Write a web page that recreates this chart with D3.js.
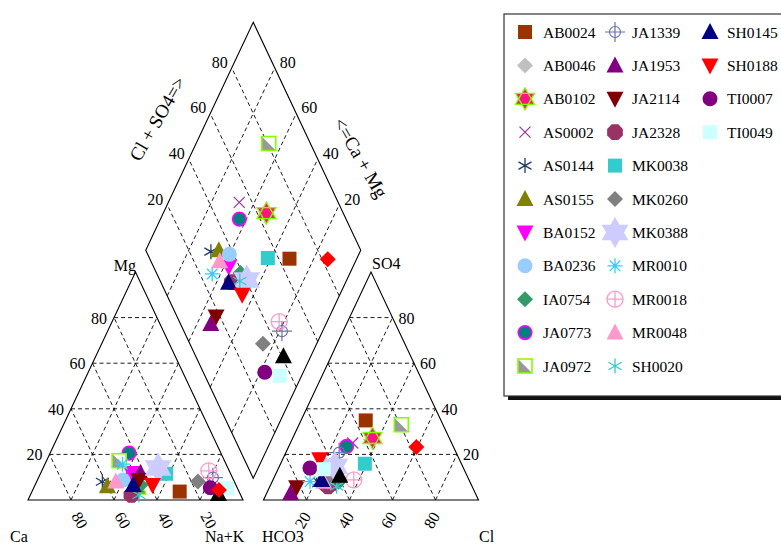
<!DOCTYPE html>
<html>
<head>
<meta charset="utf-8">
<script src="https://cdn.jsdelivr.net/npm/d3@7"></script>
<style>
  html, body { margin: 0; padding: 0; background: #fff; }
  svg { display: block; font-family: "Liberation Serif", "Times New Roman", serif; }
</style>
</head>
<body>
<svg id="chart" width="781" height="545"></svg>
<script>
// ---- Sample chemistry (percent of meq) ----
const samples = ["AB0024","AB0046","AB0102","AS0002","AS0144","AS0155","BA0152","BA0236","IA0754","JA0773","JA0972",
                 "JA1339","JA1953","JA2114","JA2328","MK0038","MK0260","MK0388","MR0010","MR0018","MR0048","SH0020",
                 "SH0145","SH0188","TI0007","TI0049","UNL001","UNL002"];
// cations
const caPct  = [27.6,32.5,47.0,61.0,61.4,60.0,46.0,51.4,44.4,42.7,49.0, 9.1,41.8,44.0,50.8,30.0,16.9,32.5,48.2, 9.5,55.1,47.3,47.8,38.8,12.5, 4.9,10.1, 9.0];
const mgPct  = [ 3.7,14.0, 5.0, 6.0, 8.0, 6.0,11.8, 8.8, 6.6,20.6,17.2, 9.8,11.8, 8.8, 2.2,11.5, 8.1,14.0,15.7,12.8, 8.1, 2.2, 6.6, 6.6, 5.4, 5.2, 2.6, 4.4];
const naKPct = [68.7,53.5,48.0,33.0,30.6,34.0,42.2,39.8,49.0,36.7,33.8,81.1,46.4,47.2,47.0,58.5,75.0,53.5,36.1,77.7,36.8,50.5,45.6,54.6,82.1,89.9,87.3,86.6];
// anions
const hco3Pct = [35.0,59.5,35.7,46.0,70.0,66.0,65.0,62.0,61.0,49.6,19.4,54.4,85.9,81.8,67.0,44.9,66.0,59.5,74.3,53.6,68.0,63.0,68.6,64.9,71.4,65.2,59.2,17.3];
const so4Pct  = [34.9,14.7,27.2,25.0, 8.0, 7.0,10.0, 8.0, 8.0,23.5,33.0,20.8, 3.0, 5.6, 6.0,15.9, 8.0,14.7, 8.1, 8.8, 8.0, 6.0, 8.8,17.9,14.0,13.5,10.6,23.2];
const clPct   = [30.1,25.8,37.1,29.0,22.0,27.0,25.0,30.0,31.0,26.9,47.6,24.8,11.1,12.6,27.0,39.2,26.0,25.8,17.6,37.6,24.0,31.0,22.6,17.2,14.6,21.3,30.2,59.5];

const gridTicks = [20, 40, 60, 80];
const legendCount = 26;   // samples listed in the key
const legendRows = 11;

// ---- Marker styles, one per sample ----
const markerStyle = {
  AB0024: {shape: "square",   fill: "#993300"},
  AB0046: {shape: "diamond",  fill: "#C0C0C0"},
  AB0102: {shape: "star6s",   fill: "#FF1480", stroke: "#80FF00"},
  AS0002: {shape: "xcross",   stroke: "#993399"},
  AS0144: {shape: "aster6",   stroke: "#1F3D66"},
  AS0155: {shape: "triUp",    fill: "#808000"},
  BA0152: {shape: "triDown",  fill: "#FF00FF"},
  BA0236: {shape: "circle",   fill: "#99CCFF"},
  IA0754: {shape: "diamond",  fill: "#339966"},
  JA0773: {shape: "circle",   fill: "#008080", stroke: "#FF00FF"},
  JA0972: {shape: "halfsq",   fill: "#999999", stroke: "#80FF00"},
  JA1339: {shape: "crosshair",stroke: "#7070B0"},
  JA1953: {shape: "triUp",    fill: "#800080"},
  JA2114: {shape: "triDown",  fill: "#800000"},
  JA2328: {shape: "octagon",  fill: "#993366"},
  MK0038: {shape: "square",   fill: "#33CCCC"},
  MK0260: {shape: "diamond",  fill: "#808080"},
  MK0388: {shape: "star6",    fill: "#CCCCFF"},
  MR0010: {shape: "aster8",   stroke: "#33CCFF"},
  MR0018: {shape: "circlePlus", stroke: "#FF99CC"},
  MR0048: {shape: "triUp",    fill: "#FF99CC"},
  SH0020: {shape: "aster6",   stroke: "#33CCCC"},
  SH0145: {shape: "triUp",    fill: "#000080"},
  SH0188: {shape: "triDown",  fill: "#FF0000"},
  TI0007: {shape: "circle",   fill: "#800080"},
  TI0049: {shape: "square",   fill: "#CCFFFF"},
  UNL001: {shape: "triUp",    fill: "#000000"},
  UNL002: {shape: "diamond",  fill: "#FF0000"}
};

// ---- Piper geometry ----
const S3 = Math.sqrt(3) / 2;           // triangle height in side units
const side = 215;                       // px per side unit
const gap = 20.5 / side;                // gap between the two triangles
const x = d3.scaleLinear().domain([0, 2 + gap]).range([28, 28 + (2 + gap) * side]);
const y = d3.scaleLinear().domain([0, S3]).range([500, 272]);

const cationXY = (na, mg) => [na + mg / 2, mg * S3];
const anionXY  = (cl, so4) => [1 + gap + cl + so4 / 2, so4 * S3];
const diamondXY = (c, b) => [1 + gap / 2 + (b - c) / 2, gap * S3 + (b + c) * S3];
const px = p => [x(p[0]), y(p[1])];

const svg = d3.select("#chart");
const line = d3.line();

// ---- Dashed grid ----
const gridG = svg.append("g")
  .attr("fill", "none").attr("stroke", "#000")
  .attr("stroke-width", 0.9).attr("stroke-dasharray", "4,3");

gridTicks.forEach(v => {
  const t = v / 100;
  const segs = [
    // cation triangle
    [cationXY(0, t), cationXY(1 - t, t)],
    [cationXY(t, 0), cationXY(t, 1 - t)],
    [cationXY(1 - t, 0), cationXY(0, 1 - t)],
    // anion triangle
    [anionXY(0, t), anionXY(1 - t, t)],
    [anionXY(t, 0), anionXY(t, 1 - t)],
    [anionXY(1 - t, 0), anionXY(0, 1 - t)],
    // diamond
    [diamondXY(0, t), diamondXY(1, t)],
    [diamondXY(t, 0), diamondXY(t, 1)]
  ];
  segs.forEach(s => gridG.append("path").attr("d", line(s.map(px))));
});

// ---- Outlines ----
const outlineG = svg.append("g").attr("fill", "none").attr("stroke", "#000").attr("stroke-width", 1.1);
outlineG.append("path").attr("d", line([cationXY(0,0), cationXY(1,0), cationXY(0,1)].map(px)) + "Z");
outlineG.append("path").attr("d", line([anionXY(0,0), anionXY(1,0), anionXY(0,1)].map(px)) + "Z");
outlineG.append("path").attr("d", line([diamondXY(0,0), diamondXY(1,0), diamondXY(1,1), diamondXY(0,1)].map(px)) + "Z");

// ---- Tick labels ----
const labG = svg.append("g").attr("font-size", 16).attr("fill", "#000");
const angle = Math.atan2(1, 0.5 / S3) * 180 / Math.PI; // slope of the triangle sides

gridTicks.forEach(v => {
  const t = v / 100;
  // Mg along left side of cation triangle
  let p = px(cationXY(0, t));
  labG.append("text").attr("x", p[0] - 7).attr("y", p[1] + 6).attr("text-anchor", "end").text(v);
  // SO4 along right side of anion triangle
  p = px(anionXY(1 - t, t));
  labG.append("text").attr("x", p[0] + 6).attr("y", p[1] + 6).text(v);
  // Ca along base of cation triangle
  p = px(cationXY(t, 0));
  labG.append("text").attr("transform", `translate(${p[0]},${p[1] + 16}) rotate(${angle})`).text(100 - v);
  // Cl along base of anion triangle
  p = px(anionXY(t, 0));
  labG.append("text").attr("transform", `translate(${p[0] + 5},${p[1] + 16}) rotate(${-angle})`)
    .attr("text-anchor", "end").text(v);
  // Cl+SO4 along upper-left side of diamond
  p = px(diamondXY(1, t));
  labG.append("text").attr("x", p[0] - 4).attr("y", p[1]).attr("text-anchor", "end").text(v);
  // Ca+Mg along upper-right side of diamond
  p = px(diamondXY(t, 1));
  labG.append("text").attr("x", p[0] + 5).attr("y", p[1]).text(v);
});

// ---- Axis titles ----
const titles = [
  {t: "Mg",   x: 136, y: 271, a: "end"},
  {t: "SO4",  x: 372, y: 269, a: "start"},
  {t: "Ca",   x: 10,  y: 542, a: "start"},
  {t: "Na+K", x: 205, y: 542, a: "start"},
  {t: "HCO3", x: 262, y: 542, a: "start"},
  {t: "Cl",   x: 479, y: 542, a: "start"}
];
titles.forEach(d => labG.append("text").attr("x", d.x).attr("y", d.y).attr("text-anchor", d.a).text(d.t));
labG.append("text").attr("transform", `translate(163,122) rotate(${-angle})`)
  .attr("text-anchor", "middle").attr("font-size", 19).text("Cl + SO4=>");
labG.append("text").attr("transform", `translate(355,161) rotate(${angle})`)
  .attr("text-anchor", "middle").attr("font-size", 19).text("<=Ca + Mg");

// ---- Marker shapes ----
const poly = pts => line(pts) + "Z";
function starPts(R) {
  const up = [0, 1, 2].map(i => [R * Math.sin(i * 2 * Math.PI / 3), -R * Math.cos(i * 2 * Math.PI / 3)]);
  const dn = up.map(p => [p[0], -p[1]]);
  return {up, dn};
}
function hexagram(R) {
  const pts = [];
  for (let i = 0; i < 12; i++) {
    const r = i % 2 === 0 ? R : R / Math.sqrt(3);
    const a = i * Math.PI / 6;
    pts.push([r * Math.sin(a), -r * Math.cos(a)]);
  }
  return poly(pts);
}
function spokes(n, len, start) {
  let d = "";
  for (let i = 0; i < n; i++) {
    const a = start + i * Math.PI / n;
    const dx = len * Math.cos(a), dy = len * Math.sin(a);
    d += `M${-dx},${-dy}L${dx},${dy}`;
  }
  return d;
}
const circ = r => `M${-r},0A${r},${r} 0 1,0 ${r},0A${r},${r} 0 1,0 ${-r},0Z`;

function drawMarker(g, name) {
  const st = markerStyle[name];
  switch (st.shape) {
    case "square":
      g.append("path").attr("d", poly([[-7,-7],[7,-7],[7,7],[-7,7]])).attr("fill", st.fill);
      break;
    case "diamond":
      g.append("path").attr("d", poly([[0,-8],[8,0],[0,8],[-8,0]])).attr("fill", st.fill);
      break;
    case "triUp":
      g.append("path").attr("d", poly([[0,-9],[8.5,7],[-8.5,7]])).attr("fill", st.fill);
      break;
    case "triDown":
      g.append("path").attr("d", poly([[0,9],[8.5,-7],[-8.5,-7]])).attr("fill", st.fill);
      break;
    case "circle":
      g.append("path").attr("d", circ(st.stroke ? 6.8 : 7.5)).attr("fill", st.fill)
        .attr("stroke", st.stroke || "none").attr("stroke-width", 1.6);
      break;
    case "octagon": {
      const pts = d3.range(8).map(i => [8.5 * Math.cos((i + 0.5) * Math.PI / 4), 8.5 * Math.sin((i + 0.5) * Math.PI / 4)]);
      g.append("path").attr("d", poly(pts)).attr("fill", st.fill);
      break;
    }
    case "star6":
      g.append("path").attr("d", hexagram(15.5)).attr("fill", st.fill);
      break;
    case "star6s": {
      const s = starPts(11);
      g.append("path").attr("d", hexagram(11)).attr("fill", st.fill);
      g.append("path").attr("d", poly(s.up)).attr("fill", "none").attr("stroke", st.stroke).attr("stroke-width", 1.3);
      g.append("path").attr("d", poly(s.dn)).attr("fill", "none").attr("stroke", st.stroke).attr("stroke-width", 1.3);
      break;
    }
    case "halfsq":
      g.append("path").attr("d", poly([[-7,-7],[7,-7],[7,7],[-7,7]])).attr("fill", "#fff");
      g.append("path").attr("d", poly([[-7,-7],[7,7],[-7,7]])).attr("fill", st.fill);
      g.append("path").attr("d", poly([[-7,-7],[7,-7],[7,7],[-7,7]])).attr("fill", "none")
        .attr("stroke", st.stroke).attr("stroke-width", 1.6);
      break;
    case "xcross":
      g.append("path").attr("d", "M-5.5,-5.5L5.5,5.5M-5.5,5.5L5.5,-5.5").attr("stroke", st.stroke).attr("stroke-width", 1.2);
      break;
    case "aster6":
      g.append("path").attr("d", spokes(3, 7.5, Math.PI / 6)).attr("stroke", st.stroke).attr("stroke-width", 1.3);
      break;
    case "aster8":
      g.append("path").attr("d", spokes(4, 7.5, 0)).attr("stroke", st.stroke).attr("stroke-width", 1.3);
      break;
    case "crosshair":
      g.append("path").attr("d", circ(5.5)).attr("fill", "none").attr("stroke", st.stroke).attr("stroke-width", 1.2);
      g.append("path").attr("d", "M-10,0L10,0M0,-10L0,10").attr("stroke", st.stroke).attr("stroke-width", 1.2);
      break;
    case "circlePlus":
      g.append("path").attr("d", circ(8)).attr("fill", "none").attr("stroke", st.stroke).attr("stroke-width", 1.3);
      g.append("path").attr("d", "M-8,0L8,0M0,-8L0,8").attr("stroke", st.stroke).attr("stroke-width", 1.3);
      break;
  }
}

// ---- Plot samples in all three fields ----
const ptsG = svg.append("g");
samples.forEach((name, i) => {
  const na = naKPct[i] / 100, mg = mgPct[i] / 100;
  const cl = clPct[i] / 100, so4 = so4Pct[i] / 100;
  const c = (caPct[i] + mgPct[i]) / 100, b = (so4Pct[i] + clPct[i]) / 100;
  [px(cationXY(na, mg)), px(anionXY(cl, so4)), px(diamondXY(c, b))].forEach(p => {
    drawMarker(ptsG.append("g").attr("transform", `translate(${p[0]},${p[1]})`), name);
  });
});

// ---- Legend ----
const legX = 504, legY = 14;
const legG = svg.append("g");
legG.append("rect").attr("x", legX + 4).attr("y", legY + 4).attr("width", 320).attr("height", 382).attr("fill", "#111");
legG.append("rect").attr("x", legX).attr("y", legY).attr("width", 320).attr("height", 382)
  .attr("fill", "#fff").attr("stroke", "#333").attr("stroke-width", 1.2);
const colSym = [525, 615, 710], colTxt = [543, 632, 727];
samples.slice(0, legendCount).forEach((name, i) => {
  const col = Math.floor(i / legendRows), row = i % legendRows;
  const cy = 32 + row * 33.4;
  drawMarker(legG.append("g").attr("transform", `translate(${colSym[col]},${cy})`), name);
  legG.append("text").attr("x", colTxt[col]).attr("y", cy + 5.5).attr("font-size", 15.5).text(name);
});
</script>
</body>
</html>
